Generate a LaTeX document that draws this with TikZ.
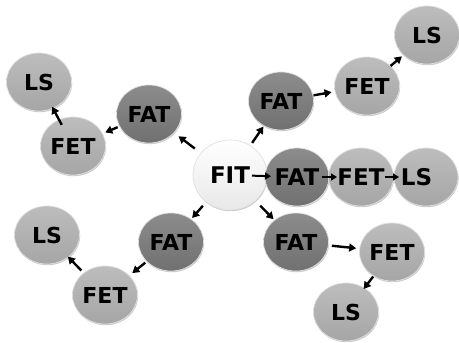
\documentclass[tikz,border=0pt]{standalone}
\usepackage{fontspec}
\setmainfont{DejaVu Sans}
\usetikzlibrary{shapes.geometric,arrows.meta,shadows}
\begin{document}
\begin{tikzpicture}[x=1pt,y=-1pt,
 bubble/.style={ellipse, inner sep=0pt, minimum width=65pt, minimum height=58pt,
   draw=white!88!black, line width=0.7pt,
   drop shadow={shadow xshift=0.6pt, shadow yshift=-1.2pt, opacity=0.35, fill=black!60},
   font=\bfseries\fontsize{22}{22}\selectfont},
 fatnode/.style={bubble, top color=black!45, bottom color=black!56},
 fetnode/.style={bubble, top color=black!26, bottom color=black!35},
 fitnode/.style={bubble, minimum width=74pt, minimum height=70pt, top color=white, bottom color=black!9},
 big/.style={font=\bfseries\fontsize{23}{23}\selectfont},
 arr/.style={-{Triangle[length=7pt,width=8pt]}, line width=2.4pt, black},
 arrsmall/.style={-{Triangle[length=6pt,width=7pt]}, line width=2pt, black},
]
\useasboundingbox (0,0) rectangle (459,343);
% centre row
\node[fitnode,big] (FIT) at (230,175) {\makebox[0pt]{FIT}};
\node[fatnode,big,minimum width=64pt] (FATc) at (297,177) {\makebox[0pt]{FAT}};
\node[fetnode,big] (FETc) at (361,177) {\makebox[0pt]{FET}};
\node[fetnode,big,minimum width=64pt] (LSc) at (426,177) {\makebox[0pt]{LS\hspace*{19pt}}};
% top right
\node[fatnode] (FATtr) at (281,101) {\makebox[0pt]{FAT}};
\node[fetnode] (FETtr) at (367,86) {\makebox[0pt]{FET}};
\node[fetnode] (LStr) at (427,35) {\makebox[0pt]{LS}};
% top left
\node[fatnode] (FATtl) at (149,114) {\makebox[0pt]{FAT}};
\node[fetnode] (FETtl) at (73,146) {\makebox[0pt]{FET}};
\node[fetnode] (LStl) at (39,82) {\makebox[0pt]{LS}};
% bottom left
\node[fatnode] (FATbl) at (171,242) {\makebox[0pt]{FAT}};
\node[fetnode] (FETbl) at (105,295) {\makebox[0pt]{FET}};
\node[fetnode] (LSbl) at (47,235) {\makebox[0pt]{LS}};
% bottom right
\node[fatnode] (FATbr) at (296,242) {\makebox[0pt]{FAT}};
\node[fetnode] (FETbr) at (392,252) {\makebox[0pt]{FET}};
\node[fetnode] (LSbr) at (346,312) {\makebox[0pt]{LS}};
% arrows centre row
\draw[arrsmall, shorten <=22pt, shorten >=26pt] (FIT.center) -- (FATc.center);
\draw[arrsmall, shorten <=25pt, shorten >=24pt] (FATc.center) -- (FETc.center);
\draw[arrsmall, shorten <=24pt, shorten >=27pt] (FETc.center) -- (LSc.center);
% top left branch
\draw[arr, shorten <=44pt, shorten >=37pt] (FIT.center) -- (FATtl.center);
\draw[arr, shorten <=34pt, shorten >=35pt] (FATtl.center) -- (FETtl.center);
\draw[arr, shorten <=24pt, shorten >=28pt] (FETtl.center) -- (LStl.center);
% top right branch
\draw[arr, shorten <=39pt, shorten >=31pt] (FIT.center) -- (FATtr.center);
\draw[arr, shorten <=33pt, shorten >=36pt] (FATtr.center) -- (FETtr.center);
\draw[arr, shorten <=31pt, shorten >=33pt] (FETtr.center) -- (LStr.center);
% bottom left branch
\draw[arr, shorten <=41pt, shorten >=32pt] (FIT.center) -- (FATbl.center);
\draw[arr, shorten <=33pt, shorten >=35pt] (FATbl.center) -- (FETbl.center);
\draw[arr, shorten <=34pt, shorten >=30pt] (FETbl.center) -- (LSbl.center);
% bottom right branch
\draw[arr, shorten <=43pt, shorten >=32pt] (FIT.center) -- (FATbr.center);
\draw[arr, shorten <=36pt, shorten >=36pt] (FATbr.center) -- (FETbr.center);
\draw[arr, shorten <=31pt, shorten >=29pt] (FETbr.center) -- (LSbr.center);
\end{tikzpicture}
\end{document}
